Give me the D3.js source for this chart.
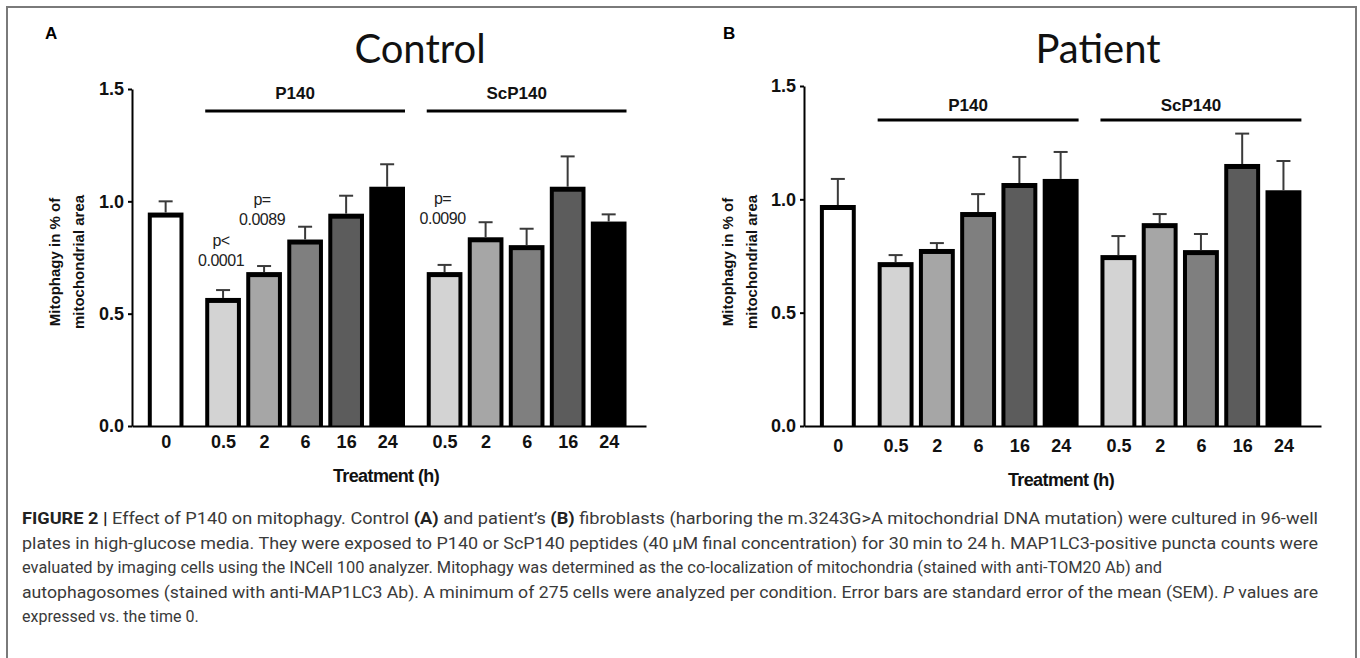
<!DOCTYPE html>
<html>
<head>
<meta charset="utf-8">
<script src="https://cdn.jsdelivr.net/npm/d3@7"></script>
<style>
  html, body { margin: 0; padding: 0; background: #fff; }
  svg { display: block; }
</style>
</head>
<body>
<svg id="fig" width="1360" height="658"></svg>
<script>
// ---------------- DATA ----------------
const categories = ["0", "0.5", "2", "6", "16", "24", "0.5", "2", "6", "16", "24"];
const groupOfBar = [0, 1, 1, 1, 1, 1, 2, 2, 2, 2, 2];
const groupLabels = ["P140", "ScP140"];
const barFills = ["#ffffff", "#d3d3d3", "#a6a6a6", "#7f7f7f", "#5c5c5c", "#000000",
                  "#d3d3d3", "#a6a6a6", "#7f7f7f", "#5c5c5c", "#000000"];

const controlMean = [0.95, 0.57, 0.685, 0.83, 0.945, 1.065, 0.685, 0.84, 0.805, 1.065, 0.91];
const controlSEM  = [0.05, 0.035, 0.027, 0.057, 0.08, 0.10, 0.032, 0.067, 0.073, 0.135, 0.032];

const patientMean = [0.975, 0.723, 0.781, 0.944, 1.072, 1.09, 0.754, 0.895, 0.776, 1.156, 1.04];
const patientSEM  = [0.115, 0.031, 0.026, 0.079, 0.115, 0.119, 0.084, 0.04, 0.071, 0.134, 0.129];

const yTicks = [0.0, 0.5, 1.0, 1.5];
const yLabelLines = ["Mitophagy in % of", "mitochondrial area"];
const xTitle = "Treatment (h)";

const controlPValues = [
  { bar: 1, lines: ["p<", "0.0001"], at: 0.71 },
  { bar: 2, lines: ["p=", "0.0089"], at: 0.895 },
  { bar: 6, lines: ["p=", "0.0090"], at: 0.90 }
];

const captionLines = [
  [["FIGURE 2 | ", "b"], ["Effect of P140 on mitophagy. Control ", ""], ["(A)", "b"], [" and patient\u2019s ", ""], ["(B)", "b"], [" fibroblasts (harboring the m.3243G>A mitochondrial DNA mutation) were cultured in 96-well", ""]],
  [["plates in high-glucose media. They were exposed to P140 or ScP140 peptides (40\u2009\u03bcM final concentration) for 30\u2009min to 24\u2009h. MAP1LC3-positive puncta counts were", ""]],
  [["evaluated by imaging cells using the INCell 100 analyzer. Mitophagy was determined as the co-localization of mitochondria (stained with anti-TOM20 Ab) and", ""]],
  [["autophagosomes (stained with anti-MAP1LC3 Ab). A minimum of 275 cells were analyzed per condition. Error bars are standard error of the mean (SEM). ", ""], ["P", "i"], [" values are", ""]],
  [["expressed vs. the time 0.", ""]]
];

// ---------------- DRAW ----------------
const svg = d3.select("#fig");
const AX_FONT = "'Liberation Sans', Arial, sans-serif";

svg.append("path")
  .attr("d", "M7,658 L7,7 L1356,7 L1356,658")
  .attr("fill", "none").attr("stroke", "#7a7a7a").attr("stroke-width", 2);

function slot(i) { return i + 0.4 * groupOfBar[i]; }

function drawPanel(cfg) {
  const g = svg.append("g");
  const x = d3.scaleLinear().domain([-0.82, 11.71]).range([cfg.x0, cfg.x1]);
  const y = d3.scaleLinear().domain([0, 1.5]).range([cfg.yBottom, cfg.yTop]);
  const bw = x(0.435) - x(-0.435);

  g.append("text").attr("x", cfg.letterX).attr("y", 39)
    .attr("font-family", AX_FONT).attr("font-weight", "bold").attr("font-size", 17)
    .text(cfg.letter);

  g.append("text").attr("x", cfg.titleX).attr("y", 63).attr("text-anchor", "middle")
    .attr("font-family", "Lato, 'Open Sans', sans-serif").attr("font-size", 40).attr("fill", "#111")
    .text(cfg.title);

  const bars = g.append("g").selectAll("g").data(cfg.mean).join("g");
  bars.append("rect")
    .attr("x", (d, i) => x(slot(i)) - bw / 2)
    .attr("y", d => y(d))
    .attr("width", bw)
    .attr("height", d => y(0) - y(d))
    .attr("fill", "#000");
  bars.append("rect")
    .attr("x", (d, i) => x(slot(i)) - bw / 2 + 4)
    .attr("y", d => y(d) + 5)
    .attr("width", bw - 8)
    .attr("height", d => Math.max(0, y(0) - y(d) - 5))
    .attr("fill", (d, i) => barFills[i]);

  const eb = g.append("g").attr("stroke", "#3a3a3a").attr("stroke-width", 2);
  eb.selectAll("line.v").data(cfg.mean).join("line").attr("class", "v")
    .attr("x1", (d, i) => x(slot(i))).attr("x2", (d, i) => x(slot(i)))
    .attr("y1", d => y(d)).attr("y2", (d, i) => y(d + cfg.sem[i]));
  eb.selectAll("line.c").data(cfg.mean).join("line").attr("class", "c")
    .attr("x1", (d, i) => x(slot(i)) - 7).attr("x2", (d, i) => x(slot(i)) + 7)
    .attr("y1", (d, i) => y(d + cfg.sem[i])).attr("y2", (d, i) => y(d + cfg.sem[i]));

  const ya = g.append("g").attr("transform", `translate(${cfg.x0},0)`)
    .call(d3.axisLeft(y).tickValues(yTicks).tickFormat(d3.format(".1f")).tickSize(4).tickSizeOuter(0).tickPadding(4));
  ya.select(".domain").attr("stroke", "#000").attr("stroke-width", 2);
  ya.selectAll(".tick line").attr("stroke", "#000").attr("stroke-width", 2);
  ya.selectAll("text").attr("font-family", AX_FONT).attr("font-weight", "bold")
    .attr("font-size", 18).attr("fill", "#111");

  const xa = g.append("g").attr("transform", `translate(0,${cfg.yBottom})`)
    .call(d3.axisBottom(x).tickValues(categories.map((c, i) => slot(i)))
      .tickFormat((d, i) => categories[i]).tickSize(0).tickSizeOuter(0).tickPadding(cfg.xPad));
  xa.select(".domain").attr("stroke", "#000").attr("stroke-width", 2);
  xa.selectAll("text").attr("font-family", AX_FONT).attr("font-weight", "bold")
    .attr("font-size", 18).attr("fill", "#111");

  g.append("text").attr("x", cfg.xTitleX).attr("y", cfg.xTitleY).attr("text-anchor", "middle")
    .attr("font-family", AX_FONT).attr("font-weight", "bold").attr("font-size", 18)
    .attr("letter-spacing", -0.6).attr("fill", "#111")
    .text(xTitle);

  const yt = g.append("text")
    .attr("transform", `translate(0,${cfg.yTitleY}) rotate(-90)`)
    .attr("text-anchor", "middle").attr("font-family", AX_FONT).attr("font-weight", "bold")
    .attr("font-size", 15).attr("fill", "#111");
  yLabelLines.forEach((t, k) => {
    yt.append("tspan").attr("x", 0).attr("y", cfg.yTitleX[k]).text(t);
  });

  [1, 2].forEach((gi, k) => {
    const idx = groupOfBar.map((v, i) => v === gi ? i : -1).filter(i => i >= 0);
    const xl = x(slot(idx[0])) - bw / 2, xr = x(slot(idx[idx.length - 1])) + bw / 2;
    g.append("line").attr("x1", xl).attr("x2", xr)
      .attr("y1", cfg.groupLineY).attr("y2", cfg.groupLineY)
      .attr("stroke", "#000").attr("stroke-width", 3);
    g.append("text").attr("x", (xl + xr) / 2 - 10).attr("y", cfg.groupLabelY)
      .attr("text-anchor", "middle").attr("font-family", AX_FONT).attr("font-weight", "bold")
      .attr("font-size", 17).attr("fill", "#111").text(groupLabels[k]);
  });

  (cfg.pvals || []).forEach(p => {
    const t = g.append("text").attr("text-anchor", "middle")
      .attr("font-family", AX_FONT).attr("font-size", 16).attr("fill", "#222")
      .attr("letter-spacing", -0.5);
    const n = p.lines.length;
    p.lines.forEach((ln, k) => {
      t.append("tspan").attr("x", x(slot(p.bar)) - 2)
        .attr("y", y(p.at) - (n - 1 - k) * 20).text(ln);
    });
  });
}

drawPanel({
  letter: "A", letterX: 45, title: "Control", titleX: 420,
  x0: 132, x1: 646, yTop: 89, yBottom: 426,
  mean: controlMean, sem: controlSEM, xPad: 9,
  xTitleX: 386, xTitleY: 482, yTitleY: 262, yTitleX: [60, 84],
  groupLineY: 111, groupLabelY: 99, pvals: controlPValues
});

drawPanel({
  letter: "B", letterX: 723, title: "Patient", titleX: 1098,
  x0: 804, x1: 1321, yTop: 86, yBottom: 426,
  mean: patientMean, sem: patientSEM, xPad: 13,
  xTitleX: 1061, xTitleY: 486, yTitleY: 262, yTitleX: [733, 757],
  groupLineY: 120, groupLabelY: 111, pvals: []
});

// caption
const cap = svg.append("g").attr("font-family", "Roboto, 'Liberation Sans', sans-serif")
  .attr("font-size", 16).attr("fill", "#3a3a3a");
const capY = [524, 549, 573, 598, 622];
const capLen = [1296, 1296, 1140, 1296, null];
captionLines.forEach((segs, li) => {
  const t = cap.append("text").attr("x", 22).attr("y", capY[li]);
  if (capLen[li]) t.attr("textLength", capLen[li]).attr("lengthAdjust", "spacingAndGlyphs");
  segs.forEach(([s, st]) => {
    const ts = t.append("tspan").text(s);
    if (st === "b") ts.attr("font-weight", "bold").attr("fill", "#222");
    if (st === "i") ts.attr("font-style", "italic");
  });
});
</script>
</body>
</html>
